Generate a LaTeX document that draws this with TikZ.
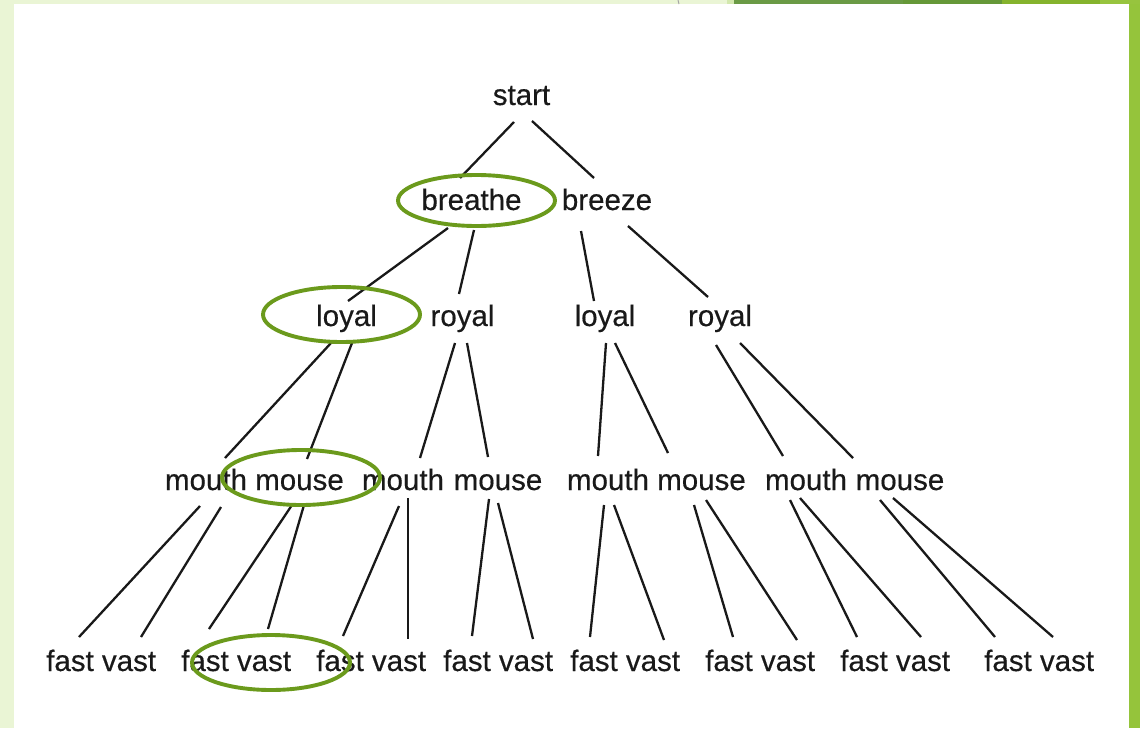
\documentclass[tikz,border=0pt]{standalone}
\usepackage{fontspec}
\setmainfont{Liberation Sans}[FakeBold=0.4]
\usetikzlibrary{calc}
\definecolor{bgl}{HTML}{EAF5D5}
\definecolor{barR}{HTML}{95C43B}
\definecolor{barA}{HTML}{6A9A45}
\definecolor{barB}{HTML}{659838}
\definecolor{barC}{HTML}{85B32D}
\definecolor{barD}{HTML}{97C43E}
\definecolor{barT}{HTML}{D3E8AE}
\definecolor{hlgreen}{HTML}{6B9A1C}
\tikzset{
  word/.style={anchor=base, inner sep=0pt, text=black!90, font=\fontsize{29.5}{30}\selectfont},
  edge/.style={line width=2.3pt, black!90},
  hl/.style={line width=3.9pt, hlgreen}
}
\newcommand{\conn}[4]{\draw[edge] ($(#1.base)+(#2)$) -- ($(#3.base)+(#4)$);}
\begin{document}
\begin{tikzpicture}[x=1pt,y=-1pt]
\useasboundingbox (0,0) rectangle (1140,728);
% background
\fill[bgl] (0,0) rectangle (1140,728);
\fill[white] (14,4) rectangle (1129,728);
\fill[barR] (1129,0) rectangle (1140,728);
\fill[barT] (727,0) rectangle (734,4);
\fill[barA] (734,0) rectangle (903,4);
\fill[barB] (903,0) rectangle (1002,4);
\fill[barC] (1002,0) rectangle (1100,4);
\fill[barD] (1100,0) rectangle (1140,4);
\draw[gray!70, line width=1pt] (678,0) -- (679,4);
% nodes
\node[word] (start) at (521.5,105) {start};
\node[word] (breathe) at (471.5,210) {breathe};
\node[word] (breeze) at (607,210) {breeze};
\node[word] (loyalA) at (346.5,326) {loyal};
\node[word] (royalA) at (462.5,326) {royal};
\node[word] (loyalB) at (605,326) {loyal};
\node[word] (royalB) at (720,326) {royal};
\node[word] (mouthA) at (206,490) {mouth};
\node[word] (mouseA) at (299.5,490) {mouse};
\node[word] (mouthB) at (403,490) {mouth};
\node[word] (mouseB) at (498,490) {mouse};
\node[word] (mouthC) at (608,490) {mouth};
\node[word] (mouseC) at (701.5,490) {mouse};
\node[word] (mouthD) at (806,490) {mouth};
\node[word] (mouseD) at (900,490) {mouse};
\node[word] (fastA) at (70,671) {fast};
\node[word] (vastA) at (129,671) {vast};
\node[word] (fastB) at (205,671) {fast};
\node[word] (vastB) at (264,671) {vast};
\node[word] (fastC) at (340,671) {fast};
\node[word] (vastC) at (399,671) {vast};
\node[word] (fastD) at (467,671) {fast};
\node[word] (vastD) at (526,671) {vast};
\node[word] (fastE) at (594,671) {fast};
\node[word] (vastE) at (653,671) {vast};
\node[word] (fastF) at (729,671) {fast};
\node[word] (vastF) at (788,671) {vast};
\node[word] (fastG) at (864,671) {fast};
\node[word] (vastG) at (923,671) {vast};
\node[word] (fastH) at (1008,671) {fast};
\node[word] (vastH) at (1067,671) {vast};
% connectors
\conn{start}{-7.5,17}{breathe}{-11.5,-32}
\conn{start}{10.5,16}{breeze}{-13,-32}
\conn{breathe}{-23.5,18}{loyalA}{1.5,-25}
\conn{breathe}{2.5,20}{royalA}{-3.5,-32}
\conn{breeze}{-26,21}{loyalB}{-11,-25}
\conn{breeze}{21,16}{royalB}{-12,-29}
\conn{loyalA}{-15.5,17}{mouthA}{19,-32}
\conn{loyalA}{5.5,17}{mouseA}{7.5,-31}
\conn{royalA}{-7.5,17}{mouthB}{17,-32}
\conn{royalA}{4.5,17}{mouseB}{-10,-33}
\conn{loyalB}{1,17}{mouthC}{-10,-34}
\conn{loyalB}{10,17}{mouseC}{-33.5,-37}
\conn{royalB}{-4,19}{mouthD}{-23,-34}
\conn{royalB}{20,17}{mouseD}{-47,-32}
\conn{mouthA}{-6,16}{fastA}{9,-34}
\conn{mouthA}{15,17}{vastA}{12,-34}
\conn{mouseA}{-7.5,15}{fastB}{4,-42}
\conn{mouseA}{4.5,15}{vastB}{4,-42}
\conn{mouthB}{-4,16}{fastC}{3,-35}
\conn{mouthB}{5,8}{vastC}{9,-32}
\conn{mouseB}{-9,9}{fastD}{5,-35}
\conn{mouseB}{0,13}{vastD}{7,-32}
\conn{mouthC}{-4,15}{fastE}{-4,-34}
\conn{mouthC}{6,15}{vastE}{11,-31}
\conn{mouseC}{-7.5,15}{fastF}{4,-34}
\conn{mouseC}{4.5,10}{vastF}{9,-31}
\conn{mouthD}{-16,10}{fastG}{-7,-34}
\conn{mouthD}{-6,8}{vastG}{-2,-34}
\conn{mouseD}{-20,10}{fastH}{-13,-34}
\conn{mouseD}{-7,8}{vastH}{-14,-34}
% highlight ellipses
\draw[hl] (476.5,200.5) ellipse [x radius=78.5, y radius=25.5];
\draw[hl] (341.5,314.5) ellipse [x radius=78.5, y radius=27.5];
\draw[hl] (301,477.5) ellipse [x radius=79, y radius=27.5];
\draw[hl] (271,662.5) ellipse [x radius=79, y radius=27.5];
\end{tikzpicture}
\end{document}
